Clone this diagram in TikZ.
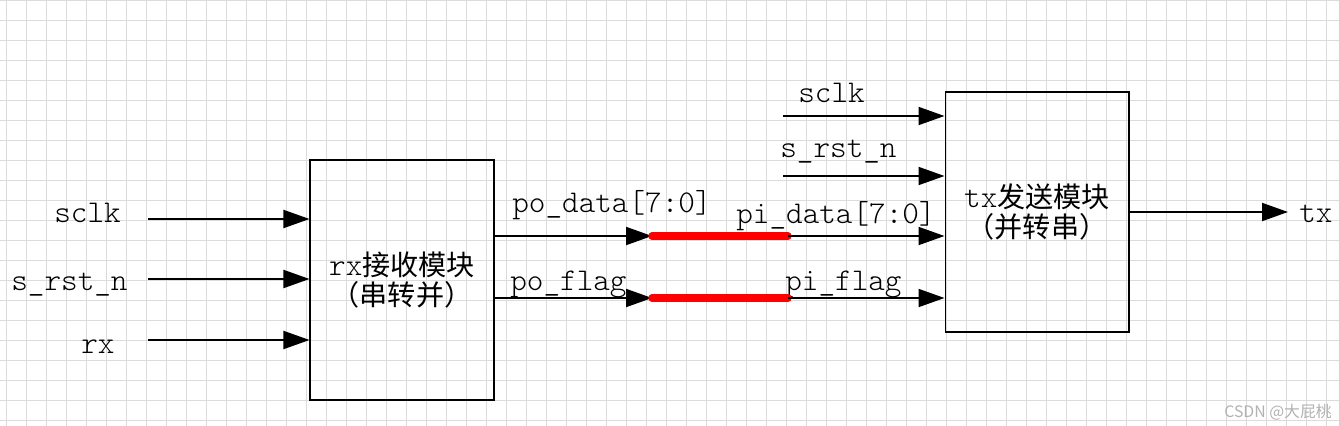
\documentclass[tikz,border=0pt]{standalone}
\usepackage{fontspec}
\newfontfamily\cjk{Noto Sans CJK SC}
\newfontfamily\sigfont{Latin Modern Mono Light}
\usetikzlibrary{arrows.meta}

\begin{document}
\begin{tikzpicture}[
                x=0.02cm, y=-0.02cm,
                module/.style={draw, line width=0.6pt, minimum width=3.68cm, minimum height=4.8cm,
                        align=center, inner sep=0pt, font=\fontsize{16}{17.6}\selectfont\sigfont},
                sig/.style={anchor=base west, inner sep=0pt, font=\fontsize{18}{20}\selectfont\sigfont},
                wire/.style={line width=1.1pt, -{Triangle[length=0.52cm,width=0.36cm]}},
                link/.style={red, line width=4.2pt, line cap=round},
                gridline/.style={gray!28, line width=0.5pt}
            ]

            \useasboundingbox (0,0) rectangle (1339,426);
            \fill[white] (0,0) rectangle (1339,426);
            \foreach \gx in {6,26,...,1326} \draw[gridline] (\gx,0) -- (\gx,426);
            \foreach \gy in {0,20,...,420} \draw[gridline] (0,\gy) -- (1339,\gy);

            \node[module] (rx) at (402,280) {{\fontsize{18}{17.6}\selectfont rx}{\cjk 接收模块}\\{\cjk （串转并）}};
            \node[module] (tx) at (1037,212) {{\fontsize{18}{17.6}\selectfont tx}{\cjk 发送模块}\\{\cjk （并转串）}};

            % rx inputs
            \node[sig] (rxclk) at (54,222) {sclk};
            \node[sig] (rxrst) at (11,290) {s\_rst\_n};
            \node[sig] (rxin) at (81,353) {rx};
            \coordinate (rxclkin) at (148,219);
            \coordinate (rxrstin) at (148,279);
            \coordinate (rxinin) at (148,340);
            \draw[wire] (rxclkin) -- (rxclkin -| rx.west);
            \draw[wire] (rxrstin) -- (rxrstin -| rx.west);
            \draw[wire] (rxinin) -- (rxinin -| rx.west);

            % rx -> tx
            \node[sig] (podatal) at (512,212) {po\_data[7:0]};
            \node[sig] (pidatal) at (736,223) {pi\_data[7:0]};
            \node[sig] (poflagl) at (510,290) {po\_flag};
            \node[sig] (piflagl) at (785,290) {pi\_flag};
            \coordinate (podata) at (652,236);
            \coordinate (pidata) at (788,236);
            \coordinate (poflag) at (652,298);
            \coordinate (piflag) at (788,298);
            \draw[wire] (rx.east |- podata) -- (podata);
            \draw[wire] (rx.east |- poflag) -- (poflag);
            \draw[link] (podata) -- (pidata);
            \draw[link] (poflag) -- (piflag);
            \draw[wire] (pidata) -- (pidata -| tx.west);
            \draw[wire] (piflag) -- (piflag -| tx.west);

            % tx inputs
            \node[sig] (txclk) at (798,102) {sclk};
            \node[sig] (txrst) at (780,157) {s\_rst\_n};
            \coordinate (txclkin) at (783,116);
            \coordinate (txrstin) at (783,176);
            \draw[wire] (txclkin) -- (txclkin -| tx.west);
            \draw[wire] (txrstin) -- (txrstin -| tx.west);

            % tx output
            \coordinate (txout) at (1288,212);
            \draw[wire] (tx.east) -- (txout);
            \node[sig] (txoutl) at (1299,222) {tx};

            \node[anchor=base east, inner sep=0pt, text=gray!60, font=\fontsize{9}{10}\selectfont\cjk] (mark) at (1332,417) {CSDN @大屁桃};

        \end{tikzpicture}
\end{document}
